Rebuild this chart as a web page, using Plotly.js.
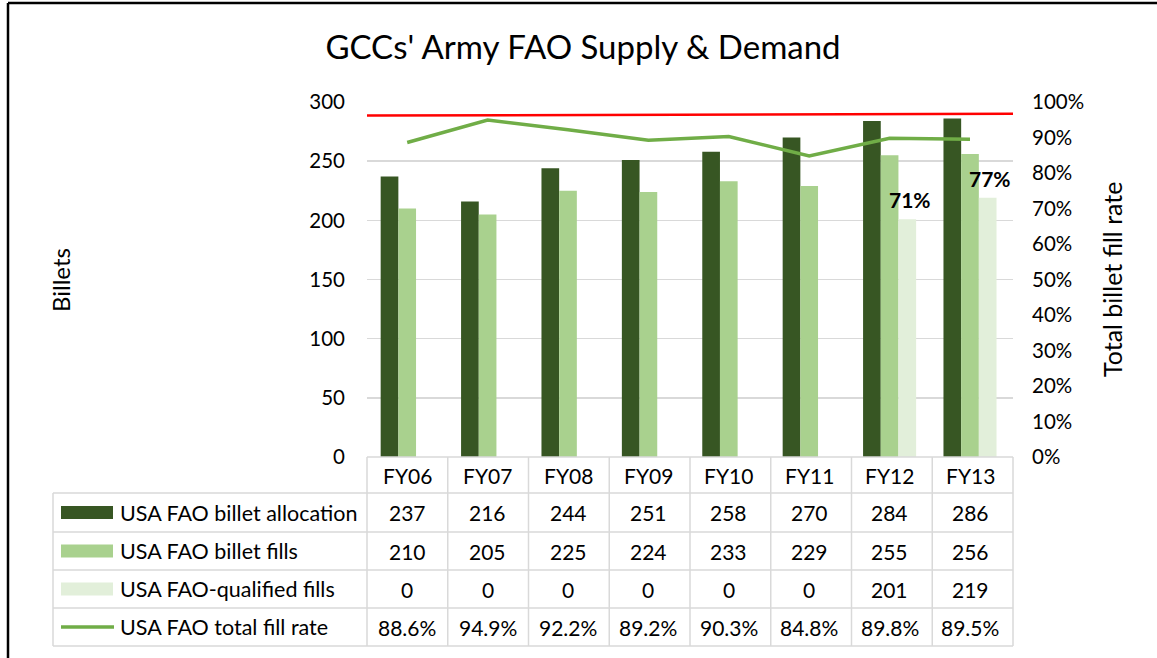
<!DOCTYPE html>
<html>
<head>
<meta charset="utf-8">
<script src="https://cdn.plot.ly/plotly-3.0.1.min.js"></script>
<style>html,body{margin:0;padding:0;background:#fff;}#chart{width:1157px;height:658px;}</style>
</head>
<body>
<div id="chart"></div>
<script>
// ---- data ----
const categories = ["FY06","FY07","FY08","FY09","FY10","FY11","FY12","FY13"];
const allocation = [237,216,244,251,258,270,284,286];
const fills = [210,205,225,224,233,229,255,256];
const qualifiedFills = [0,0,0,0,0,0,201,219];
const totalFillRate = [0.886,0.949,0.922,0.892,0.903,0.848,0.898,0.895];
const fillRateLabels = ["88.6%","94.9%","92.2%","89.2%","90.3%","84.8%","89.8%","89.5%"];
const seriesNames = ["USA FAO billet allocation","USA FAO billet fills","USA FAO-qualified fills","USA FAO total fill rate"];
const targetLine = [288.5, 290];

// ---- geometry helpers (pixel -> paper) ----
const W = 1157, H = 658;
const L = 367, R = 1013, T = 102, B = 457;
const px = x => (x - L) / (R - L);
const py = y => (B - y) / (B - T);

const FONT = "Lato, 'Open Sans', sans-serif";
const colors = ["#375623", "#A9D18E", "#E2EFDA", "#70AD47"];

const traces = [
  {type:'bar', x:categories, y:allocation, name:seriesNames[0], marker:{color:colors[0]}, hoverinfo:'x+y'},
  {type:'bar', x:categories, y:fills, name:seriesNames[1], marker:{color:colors[1]}, hoverinfo:'x+y'},
  {type:'bar', x:categories, y:qualifiedFills, name:seriesNames[2], marker:{color:colors[2]}, hoverinfo:'x+y'},
  {type:'scatter', mode:'lines', x:categories, y:totalFillRate, yaxis:'y2', name:seriesNames[3],
   line:{color:colors[3], width:3.5}, hoverinfo:'x+y'}
];

const shapes = [];
const annotations = [];
const gridColor = "#D9D9D9";

// target red line
shapes.push({type:'line', xref:'paper', yref:'y', x0:0, x1:1, y0:targetLine[0], y1:targetLine[1],
  line:{color:'#FF0000', width:2.5}});

// table rows (pixel positions)
const rowLines = [457, 493, 532, 570, 608, 646];
const labelLeft = 53;
const colW = (R - L) / categories.length;
rowLines.forEach((y, i) => {
  shapes.push({type:'line', xref:'paper', yref:'paper', x0: px(i === 0 ? L : labelLeft), x1: 1,
    y0: py(y), y1: py(y), line:{color:gridColor, width:1.5}});
});
shapes.push({type:'line', xref:'paper', yref:'paper', x0:px(labelLeft), x1:px(labelLeft), y0:py(493), y1:py(646), line:{color:gridColor, width:1.5}});
for (let k = 0; k <= categories.length; k++) {
  const x = L + k * colW;
  shapes.push({type:'line', xref:'paper', yref:'paper', x0:px(x), x1:px(x), y0:py(457), y1:py(646), line:{color:gridColor, width:1.5}});
}

const rowCenters = [475, 512.5, 551, 589, 627];
const tableRows = [allocation, fills, qualifiedFills, fillRateLabels];
const cellFont = {family:FONT, size:21, color:'#000'};
categories.forEach((c, i) => {
  annotations.push({xref:'x', yref:'paper', x:c, y:py(rowCenters[0]), text:c, showarrow:false,
    font:cellFont, xanchor:'center', yanchor:'middle'});
  tableRows.forEach((row, r) => {
    annotations.push({xref:'x', yref:'paper', x:c, y:py(rowCenters[r+1]), text:String(row[i]), showarrow:false,
      font:cellFont, xanchor:'center', yanchor:'middle'});
  });
});

seriesNames.forEach((name, r) => {
  const yc = rowCenters[r+1];
  if (r < 3) {
    shapes.push({type:'rect', xref:'paper', yref:'paper', x0:px(61), x1:px(113), y0:py(yc-6.5), y1:py(yc+6.5),
      fillcolor:colors[r], line:{width:0}});
  } else {
    shapes.push({type:'line', xref:'paper', yref:'paper', x0:px(61), x1:px(114), y0:py(yc), y1:py(yc),
      line:{color:colors[3], width:3.5}});
  }
  annotations.push({xref:'paper', yref:'paper', x:px(118), y:py(yc), text:name, showarrow:false,
    font:{family:FONT, size:21.5, color:'#000'}, xanchor:'left', yanchor:'middle'});
});

categories.forEach((c, i) => {
  if (qualifiedFills[i] > 0) {
    const pct = Math.round(qualifiedFills[i] / allocation[i] * 100) + '%';
    annotations.push({xref:'x', yref:'y', x:c, y:qualifiedFills[i], text:'<b>' + pct + '</b>', showarrow:false,
      xanchor:'center', yanchor:'bottom', xshift:20, yshift:5, font:{family:FONT, size:21, color:'#000'}});
  }
});

annotations.push({xref:'paper', yref:'paper', x:px(60), y:py(280), text:'Billets', textangle:-90, showarrow:false,
  font:{family:FONT, size:24, color:'#000'}, xanchor:'center', yanchor:'middle'});
annotations.push({xref:'paper', yref:'paper', x:px(1112), y:py(280), text:'Total billet fill rate', textangle:-90, showarrow:false,
  font:{family:FONT, size:25, color:'#000'}, xanchor:'center', yanchor:'middle'});

shapes.push({type:'line', xref:'paper', yref:'paper', x0:px(8), x1:px(1157), y0:py(3), y1:py(3), line:{color:'#000', width:2.5}});
shapes.push({type:'line', xref:'paper', yref:'paper', x0:px(8), x1:px(8), y0:py(3), y1:py(658), line:{color:'#000', width:2.5}});

const layout = {
  width: W, height: H,
  margin: {l: L, r: W - R, t: T, b: H - B, pad: 0},
  paper_bgcolor: '#fff', plot_bgcolor: '#fff',
  font: {family: FONT, color: '#000'},
  title: {text: "GCCs' Army FAO Supply &amp; Demand", x: 583 / W, xref: 'container', xanchor: 'center',
    y: 1 - 47 / H, yref: 'container', yanchor: 'middle', font: {family: FONT, size: 33, color: '#000'}},
  barmode: 'group', bargap: 0.34, bargroupgap: 0,
  showlegend: false,
  xaxis: {type: 'category', showticklabels: false, ticks: '', showgrid: false, zeroline: false, showline: false, fixedrange: true},
  yaxis: {range: [0, 300], dtick: 50, tick0: 0, showgrid: true, gridcolor: gridColor, gridwidth: 1.5,
    zeroline: false, showline: false, ticks: '', ticklabelstandoff: 21, tickfont: {family: FONT, size: 20.5, color: '#000'}},
  yaxis2: {range: [0, 1], dtick: 0.1, tick0: 0, tickformat: '.0%', overlaying: 'y', side: 'right', showgrid: false,
    zeroline: false, showline: false, ticks: '', ticklabelstandoff: 18, tickfont: {family: FONT, size: 20.5, color: '#000'}},
  shapes: shapes,
  annotations: annotations
};

Plotly.newPlot('chart', traces, layout, {displayModeBar: false, staticPlot: true});
</script>
</body>
</html>
